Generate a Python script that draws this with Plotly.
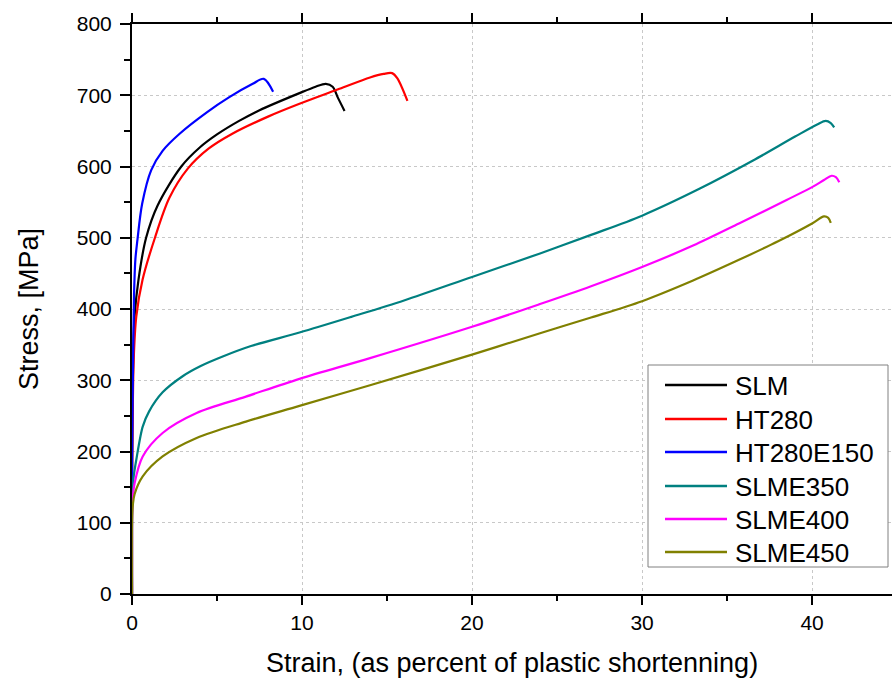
import plotly.graph_objects as go

# ---- data ----
slm_x = [0, 0.0, 0.02, 0.08, 0.15, 0.38, 0.83, 1.5, 2.9, 4.0, 5.0, 6.3, 7.5, 9.85, 10.8, 11.4, 11.8, 12.1, 12.5]
slm_y = [0, 150, 250, 340, 389, 441, 500, 545, 600, 627, 645, 664, 679, 703, 712, 716, 712, 697, 678]

ht280_x = [0, 0.0, 0.02, 0.1, 0.25, 0.62, 1.35, 2.2, 3.28, 4.5, 5.9, 8.0, 9.85, 12.2, 14.0, 14.8, 15.3, 15.6, 16.2]
ht280_y = [0, 150, 200, 329, 389, 441, 500, 556, 597, 625, 646, 670, 688, 709, 725, 730, 731, 724, 692]

ht280e150_x = [0, 0.0, 0.03, 0.05, 0.12, 0.2, 0.32, 0.6, 1.13, 1.8, 2.8, 4.4, 5.7, 7.1, 7.75, 8.3]
ht280e150_y = [0, 150, 250, 300, 420, 470, 497, 548, 595, 622, 646, 676, 697, 716, 723, 705]

slme350_x = [0, 0.0, 0.05, 0.1, 0.25, 0.63, 1.0, 1.8, 3.0, 4.04, 5.3, 7.0, 9.85, 12.9, 16, 20.0, 24.0, 27, 30.0, 33.4, 36.5, 39.0, 40.3, 40.8, 41.1, 41.3]
slme350_y = [0, 120, 150, 165, 188, 235, 256, 283, 306, 320, 333, 348, 367, 389, 412, 445, 478, 504, 531, 569, 608, 642, 659, 664, 661, 655]

slme400_x = [0, 0.0, 0.05, 0.15, 0.63, 1.8, 3.8, 6.7, 9.85, 14, 20.0, 24.0, 27, 30.0, 33, 35.7, 38.5, 40.0, 40.7, 41.15, 41.4, 41.6]
slme400_y = [0, 110, 135, 155, 193, 226, 254, 277, 302, 331, 375, 407, 432, 459, 489, 520, 553, 571, 581, 587, 585, 578]

slme450_x = [0, 0.0, 0.05, 0.15, 0.63, 1.8, 3.8, 6.7, 9.85, 14, 20.0, 24.0, 27, 30.0, 33, 35.7, 38, 40.0, 40.7, 40.95, 41.1]
slme450_y = [0, 100, 125, 140, 165, 193, 219, 242, 264, 293, 336, 366, 388, 411, 440, 469, 495, 520, 530, 528, 521]

series_names = ["SLM", "HT280", "HT280E150", "SLME350", "SLME400", "SLME450"]
series_x = [slm_x, ht280_x, ht280e150_x, slme350_x, slme400_x, slme450_x]
series_y = [slm_y, ht280_y, ht280e150_y, slme350_y, slme400_y, slme450_y]
colors = ["#000000", "#FF0000", "#0000FF", "#008080", "#FF00FF", "#808000"]

x_tickvals = [0, 10, 20, 30, 40]
y_tickvals = [0, 100, 200, 300, 400, 500, 600, 700, 800]

FONT = "Liberation Sans, Arial, sans-serif"

W, H = 892, 680
ML, MR, MT, MB = 132, 0, 24, 86
PW, PH = W - ML - MR, H - MT - MB


def px_x(p):
    return (p - ML) / PW


def px_y(p):
    return (H - MB - p) / PH


fig = go.Figure()
for name, xs, ys, c in zip(series_names, series_x, series_y, colors):
    fig.add_trace(go.Scatter(x=xs, y=ys, mode="lines", name=name,
                             line=dict(color=c, width=2.2, shape="spline", smoothing=0.9),
                             showlegend=False))

axis_common = dict(
    showline=True, linecolor="black", linewidth=2,
    ticks="outside", tickcolor="black", tickwidth=2,
    showgrid=True, gridcolor="#c8c8c8", griddash="dot", gridwidth=1,
    zeroline=False,
    tickfont=dict(family=FONT, size=21, color="black"),
)

# hand-drawn legend box (matches the reference's long line samples)
shapes = [dict(type="rect", xref="paper", yref="paper",
               x0=px_x(648), x1=px_x(888), y0=px_y(567), y1=px_y(365),
               line=dict(color="#808080", width=1), fillcolor="white", layer="above")]
annotations = []
row_y = [385, 419, 452, 486, 519, 552]
for name, c, ry in zip(series_names, colors, row_y):
    shapes.append(dict(type="line", xref="paper", yref="paper",
                       x0=px_x(665), x1=px_x(727), y0=px_y(ry), y1=px_y(ry),
                       line=dict(color=c, width=2.5), layer="above"))
    annotations.append(dict(xref="paper", yref="paper", x=px_x(733), y=px_y(ry + 1),
                            xanchor="left", yanchor="middle", showarrow=False,
                            text=name, font=dict(family=FONT, size=26, color="black")))

fig.update_layout(
    width=W, height=H,
    margin=dict(l=ML, r=MR, t=MT, b=MB),
    paper_bgcolor="white", plot_bgcolor="white",
    font=dict(family=FONT, color="black"),
    showlegend=False,
    xaxis=dict(
        **axis_common,
        range=[0, 44.7], tickvals=x_tickvals, ticklen=9,
        mirror="ticks",
        minor=dict(ticks="outside", ticklen=5, tickwidth=2, tickcolor="black", dtick=5, tick0=0, showgrid=False),
        title=dict(text="Strain, (as percent of plastic shortenning)",
                   font=dict(family=FONT, size=27, color="black"), standoff=20),
    ),
    yaxis=dict(
        **axis_common,
        range=[0, 800], tickvals=y_tickvals, ticklen=10,
        mirror=False,
        ticklabelstandoff=4,
        minor=dict(ticks="outside", ticklen=6, tickwidth=2, tickcolor="black", dtick=50, tick0=0, showgrid=False),
        title=dict(text="Stress, [MPa]",
                   font=dict(family=FONT, size=27, color="black"), standoff=30),
    ),
    shapes=shapes,
    annotations=annotations,
)

fig.write_html("out.html", config={"displayModeBar": False},
               post_script="document.body.style.margin='0';document.body.style.overflow='hidden';")
